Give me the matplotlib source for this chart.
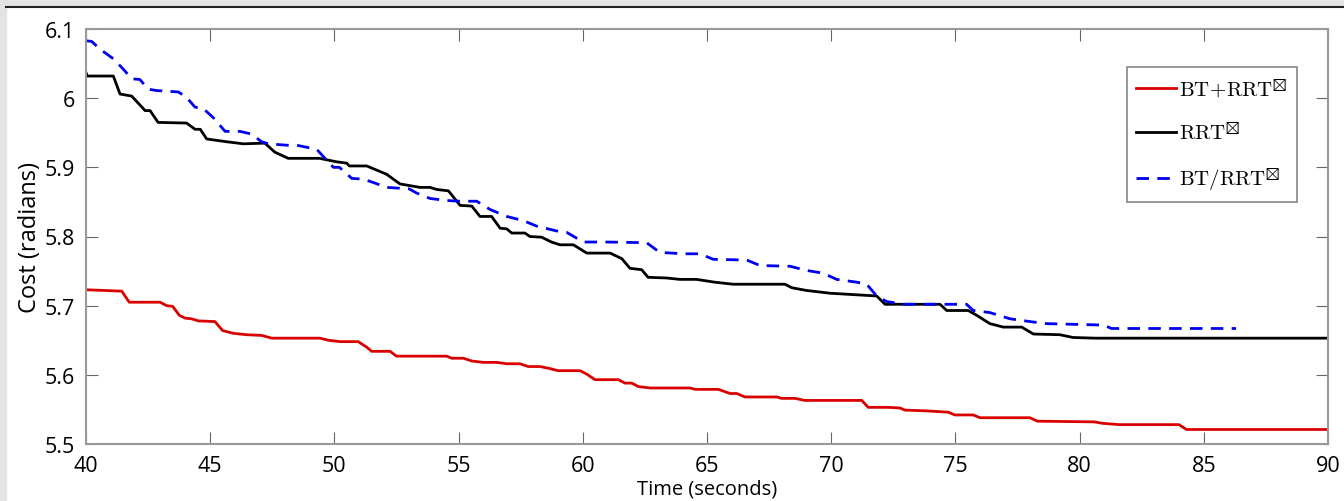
"""Cost vs time for three planners"""

import matplotlib
matplotlib.use("Agg")
import matplotlib.pyplot as plt
from matplotlib.patches import Rectangle
from matplotlib.lines import Line2D

plt.rcParams['mathtext.fontset'] = 'cm'

# BT+RRT*
t_bt = [40, 41.44, 41.74, 42.98, 43.25, 43.49, 43.76, 43.99, 44.25, 44.52, 45.19, 45.5,
        45.93, 46.47, 47.07, 47.48, 49.42, 49.76, 50.23, 50.96, 51.3, 51.5, 52.24, 52.5,
        54.52, 54.72, 55.19, 55.53, 56.0, 56.53, 56.94, 57.47, 57.8, 58.28, 58.68, 59.01,
        59.89, 60.16, 60.49, 61.43, 61.7, 61.97, 62.24, 62.71, 64.32, 64.52, 65.46, 65.93,
        66.2, 66.53, 67.81, 68.0, 68.54, 68.94, 71.23, 71.49, 72.3, 72.77, 72.97, 73.78,
        74.25, 74.71, 74.98, 75.72, 75.99, 78.0, 78.3, 80.6, 80.9, 81.6, 84.0, 84.3, 90]
c_bt = [5.723, 5.721, 5.705, 5.705, 5.700, 5.699, 5.686, 5.682, 5.681, 5.678, 5.677, 5.664,
        5.660, 5.658, 5.657, 5.653, 5.653, 5.650, 5.648, 5.648, 5.640, 5.634, 5.634, 5.627,
        5.627, 5.624, 5.624, 5.620, 5.618, 5.618, 5.616, 5.616, 5.612, 5.612, 5.609, 5.606,
        5.606, 5.601, 5.593, 5.593, 5.588, 5.588, 5.583, 5.581, 5.581, 5.579, 5.579, 5.573,
        5.573, 5.568, 5.568, 5.566, 5.566, 5.563, 5.563, 5.553, 5.553, 5.552, 5.549, 5.548,
        5.547, 5.546, 5.542, 5.542, 5.538, 5.538, 5.533, 5.532, 5.530, 5.528, 5.528, 5.521, 5.521]

# RRT*
t_rrt = [40, 40.05, 41.1, 41.37, 41.84, 42.38, 42.58, 42.9, 44.05, 44.39, 44.6, 44.86,
         45.66, 46.33, 47.2, 47.6, 48.14, 49.4, 50.09, 50.5, 50.6, 51.3, 52.1, 52.64,
         53.45, 53.85, 54.12, 54.59, 55.06, 55.53, 55.86, 56.33, 56.67, 56.94, 57.14, 57.67,
         57.87, 58.34, 58.74, 59.08, 59.62, 60.16, 61.1, 61.57, 61.9, 62.37, 62.63, 63.38,
         63.9, 64.58, 65.3, 66.05, 68.14, 68.41, 69.0, 69.95, 70.89, 71.83, 72.17, 74.38,
         74.65, 75.52, 75.86, 76.39, 76.93, 77.67, 78.14, 79.2, 79.74, 80.62, 90]
c_rrt = [6.037, 6.032, 6.032, 6.006, 6.003, 5.982, 5.982, 5.965, 5.964, 5.955, 5.955, 5.941,
         5.937, 5.934, 5.935, 5.922, 5.913, 5.913, 5.908, 5.906, 5.902, 5.902, 5.890, 5.876,
         5.871, 5.871, 5.868, 5.866, 5.845, 5.844, 5.829, 5.829, 5.812, 5.811, 5.805, 5.805,
         5.800, 5.799, 5.792, 5.788, 5.788, 5.776, 5.776, 5.768, 5.754, 5.752, 5.741, 5.740,
         5.738, 5.738, 5.734, 5.731, 5.731, 5.726, 5.722, 5.718, 5.716, 5.714, 5.702, 5.702,
         5.693, 5.693, 5.686, 5.674, 5.669, 5.669, 5.659, 5.658, 5.654, 5.653, 5.653]

# BT/RRT*
t_btr = [40, 40.23, 40.56, 41.1, 41.5, 41.84, 42.17, 42.5, 42.85, 43.72, 44.05, 44.39,
         44.72, 45.12, 45.6, 46.2, 46.67, 47.07, 47.34, 48.08, 48.48, 49.29, 49.62, 49.96,
         50.2, 50.7, 51.16, 51.57, 52.1, 53.0, 53.3, 53.85, 54.52, 55.06, 55.73, 56.27,
         56.94, 57.6, 58.14, 58.95, 59.35, 60.02, 60.96, 62.57, 63.1, 64.05, 64.72, 65.25,
         66.6, 67.13, 68.34, 69.0, 69.67, 70.22, 71.02, 71.43, 71.83, 72.23, 72.9, 75.45,
         75.72, 76.39, 77.2, 78.0, 78.67, 80.95, 81.29, 86.3]
c_btr = [6.083, 6.082, 6.071, 6.057, 6.042, 6.028, 6.027, 6.013, 6.011, 6.009, 6.001, 5.987,
         5.985, 5.972, 5.952, 5.952, 5.948, 5.937, 5.934, 5.932, 5.932, 5.926, 5.913, 5.900,
         5.900, 5.884, 5.883, 5.878, 5.871, 5.869, 5.863, 5.855, 5.852, 5.851, 5.851, 5.839,
         5.829, 5.823, 5.815, 5.808, 5.806, 5.792, 5.792, 5.791, 5.777, 5.775, 5.775, 5.767,
         5.766, 5.758, 5.757, 5.751, 5.747, 5.738, 5.734, 5.731, 5.714, 5.706, 5.702, 5.702,
         5.693, 5.690, 5.681, 5.677, 5.674, 5.672, 5.667, 5.667]

labels = [r'$\mathrm{BT\!+\!RRT}^{\boxtimes}$', r'$\mathrm{RRT}^{\boxtimes}$',
          r'$\mathrm{BT/RRT}^{\boxtimes}$']
x_ticks = [40, 45, 50, 55, 60, 65, 70, 75, 80, 85, 90]
y_ticks = [5.5, 5.6, 5.7, 5.8, 5.9, 6.0, 6.1]
y_ticklabels = ['5.5', '5.6', '5.7', '5.8', '5.9', '6', '6.1']

W, H = 1344, 502
fig = plt.figure(figsize=(W / 100, H / 100), dpi=100, facecolor='white')

# screenshot frame: gray strips and a dark top line
fig.patches.append(Rectangle((0, 0), 6 / W, 1, transform=fig.transFigure,
                             color='#e4e4e4', zorder=0))
fig.patches.append(Rectangle((0, 1 - 7 / H), 1, 7 / H, transform=fig.transFigure,
                             color='#e4e4e4', zorder=0))
fig.lines.append(Line2D([6 / W, 1], [1 - 7.5 / H, 1 - 7.5 / H], transform=fig.transFigure,
                        color='#222222', lw=1.5))

ax = fig.add_axes([86 / W, 1 - 445 / H, (1328 - 86) / W, (445 - 30) / H])

ax.plot(t_bt, c_bt, color='#d90000', lw=2.0, label=labels[0])
ax.plot(t_rrt, c_rrt, color='black', lw=2.0, label=labels[1])
ax.plot(t_btr, c_btr, color='#0000f0', lw=2.0, dashes=(4.5, 3), label=labels[2])

ax.set_xlim(40, 90)
ax.set_ylim(5.5, 6.1)
ax.set_xticks(x_ticks)
ax.set_yticks(y_ticks)
ax.set_yticklabels(y_ticklabels)

for s in ax.spines.values():
    s.set_color('#999999')
    s.set_linewidth(1.5)
ax.tick_params(direction='in', length=8.5, width=0.8, color='#666666',
               top=True, right=True, labelsize=15.5, pad=8)
for lab in ax.get_xticklabels() + ax.get_yticklabels():
    lab.set_family('Open Sans')

ax.set_xlabel('Time (seconds)', family='Open Sans', fontsize=14.5, labelpad=2)
ax.set_ylabel('Cost (radians)', family='Open Sans', fontsize=17, labelpad=2)

leg = ax.legend(loc='upper right', bbox_to_anchor=(0.975, 0.908), borderaxespad=0,
                fontsize=15, handlelength=1.9, handletextpad=0.15, labelspacing=1.05,
                borderpad=0.45, fancybox=False, framealpha=1)
leg.get_frame().set_edgecolor('#888888')
leg.get_frame().set_linewidth(1.2)

fig.savefig('out.png', dpi=100, facecolor=fig.get_facecolor())
